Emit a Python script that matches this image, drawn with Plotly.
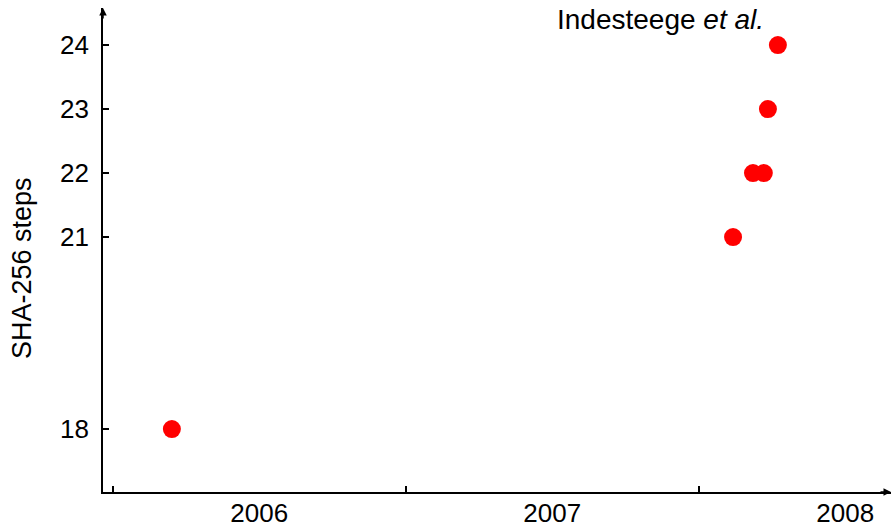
import plotly.graph_objects as go

# Data (fractional year, number of SHA-256 steps)
years = [2006.202, 2008.117, 2008.185, 2008.222, 2008.236, 2008.270]
steps = [18, 21, 22, 22, 23, 24]

tick_years = [2006, 2007, 2008]
label_pos = [2006.5, 2007.5, 2008.5]
label_text = ["2006", "2007", "2008"]
y_ticks = [18, 21, 22, 23, 24]

x_range = [2005.967, 2008.656]
y_range = [17.016, 24.58]

FONT = "Liberation Sans"
FS = 26

fig = go.Figure()
fig.add_trace(go.Scatter(
    x=years, y=steps, mode="markers",
    marker=dict(color="#ff0000", size=18, line=dict(width=0)),
    showlegend=False, hoverinfo="x+y"))
# invisible trace to activate the label axis
fig.add_trace(go.Scatter(x=[x_range[0]], y=[y_range[0]], xaxis="x2", mode="markers",
                         marker=dict(opacity=0), showlegend=False, hoverinfo="skip"))

fig.update_layout(
    width=892, height=527,
    margin=dict(l=103, r=1, t=8, b=35),
    paper_bgcolor="white", plot_bgcolor="white",
    font=dict(family=FONT, size=FS, color="black"),
    xaxis=dict(range=x_range, tickvals=tick_years, showticklabels=False,
               ticks="inside", ticklen=6, tickwidth=1.5, tickcolor="black",
               showline=True, linecolor="black", linewidth=1.6,
               showgrid=False, zeroline=False, automargin=False),
    xaxis2=dict(range=x_range, overlaying="x", side="bottom", anchor="y",
                tickvals=label_pos, ticktext=label_text, ticks="",
                showline=False, showgrid=False, zeroline=False, automargin=False,
                ticklabelstandoff=3,
                tickfont=dict(family=FONT, size=FS)),
    yaxis=dict(range=y_range, tickvals=y_ticks, ticktext=[str(v) for v in y_ticks],
               ticks="inside", ticklen=6, tickwidth=1.5, tickcolor="black",
               showline=True, linecolor="black", linewidth=1.6,
               showgrid=False, zeroline=False, automargin=False,
               ticklabelstandoff=7,
               tickfont=dict(family=FONT, size=FS)),
)

# y-axis title (placed lower than plot-centre, as in the reference)
fig.add_annotation(xref="paper", yref="paper", x=-0.1028, y=0.4628,
                   text="SHA-256 steps", textangle=-90, showarrow=False,
                   xanchor="center", yanchor="middle",
                   font=dict(family=FONT, size=27, color="black"))

# axis arrowheads
fig.add_annotation(x=x_range[1], y=y_range[0], xref="x", yref="y", ax=-12, ay=0,
                   showarrow=True, arrowhead=2, arrowsize=1, arrowwidth=1.5,
                   arrowcolor="black", text="")
fig.add_annotation(x=x_range[0], y=y_range[1], xref="x", yref="y", ax=0, ay=12,
                   showarrow=True, arrowhead=2, arrowsize=1, arrowwidth=1.5,
                   arrowcolor="black", text="")

fig.add_annotation(x=2008.226, y=24.14, xref="x", yref="y",
                   text="Indesteege <i>et al.</i>", showarrow=False,
                   xanchor="right", yanchor="bottom", borderpad=0,
                   font=dict(family=FONT, size=28, color="black"))

fig.write_html("out.html", config={"displayModeBar": False},
               post_script="document.body.style.margin='0px';document.body.style.overflow='hidden';")
